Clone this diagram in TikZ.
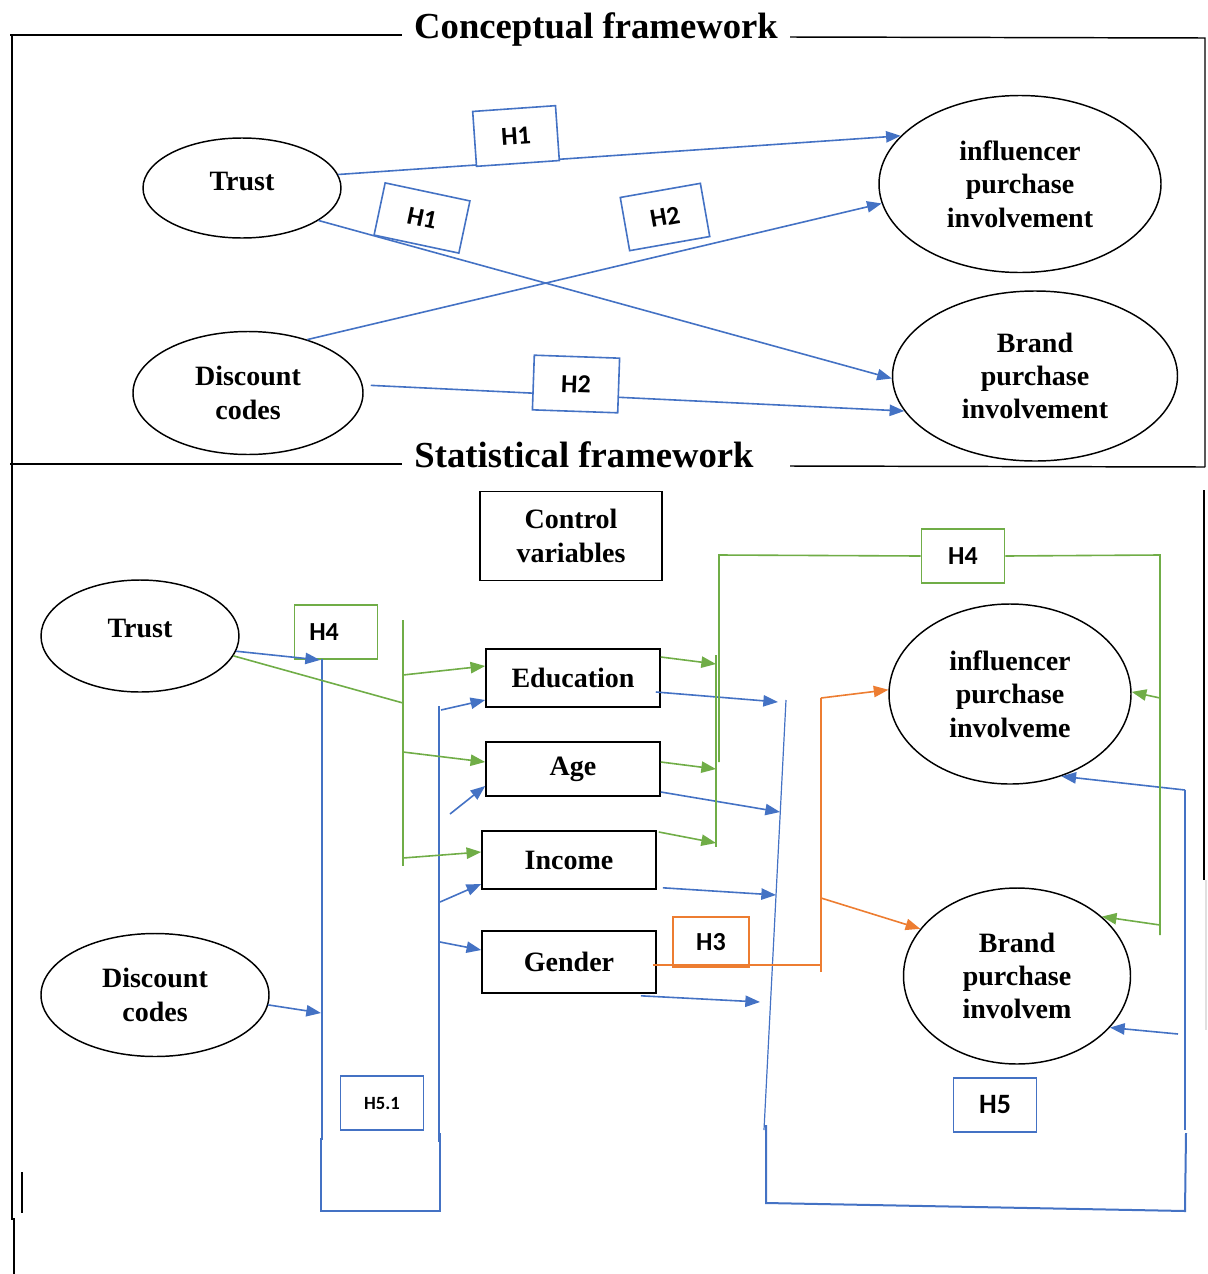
\documentclass[tikz,border=0pt]{standalone}
\usepackage{fontspec}
\setmainfont{Liberation Serif}
\newfontfamily\hfont{Carlito}
\usetikzlibrary{arrows.meta,shapes.geometric,calc}
\definecolor{cblue}{HTML}{4472C4}
\definecolor{cgreen}{HTML}{70AD47}
\definecolor{corange}{HTML}{ED7D31}
\begin{document}
\begin{tikzpicture}[x=0.75pt,y=-0.75pt,
  frame/.style={line width=1.1pt, black},
  ell/.style={ellipse, draw, line width=1.1pt, inner sep=0pt, align=center, font=\fontsize{21}{25}\selectfont\bfseries},
  box/.style={rectangle, draw, line width=1.2pt, inner sep=0pt, align=center, font=\fontsize{21}{25}\selectfont\bfseries},
  hbox/.style={rectangle, draw=cblue, fill=white, line width=1.2pt, inner sep=0pt, font=\hfont\fontsize{19.5}{22}\selectfont\bfseries},
  titlefont/.style={font=\fontsize{27.5}{30}\selectfont\bfseries, inner sep=0pt, anchor=base},
  bl/.style={cblue, line width=1.2pt},
  blthin/.style={cblue, line width=0.9pt},
  blthick/.style={cblue, line width=1.5pt},
  gl/.style={cgreen, line width=1.2pt},
  ol/.style={corange, line width=1.2pt},
  tip/.style={-{Triangle[length=11pt,width=8.5pt]}},
]
\useasboundingbox (0,0) rectangle (1207,1274);

% ---------- frame ----------
\draw[frame] (10,35) -- (402,35);
\draw[frame] (790,37) -- (1205,38) -- (1205,467);
\draw[frame] (12,35) -- (12,1220);
\draw[frame] (14,1218) -- (14,1274);
\draw[frame] (22,1172) -- (22,1213);
\draw[frame] (10,464) -- (402,464);
\draw[frame] (790,466) -- (1205,467);
\draw[frame] (1204,490) -- (1204,880);
\draw[black!12, line width=0.8pt] (1206,880) -- (1206,1030);

\node[titlefont] (ttl1) at (596,38) {Conceptual framework};
\node[titlefont] (ttl2) at (584,467) {Statistical framework};

% ---------- conceptual framework ----------
\node[ell, minimum width=148.5pt, minimum height=75pt] (tT) at (242,188) {\raisebox{10.5pt}{Trust}};
\node[ell, minimum width=172.5pt, minimum height=92.25pt] (dT) at (248,393) {Discount\\codes};
\node[ell, minimum width=211.5pt, minimum height=132.75pt] (infT) at (1020,184) {influencer\\purchase\\involvement};
\node[ell, minimum width=213.75pt, minimum height=127.5pt] (brT) at (1035,376) {Brand\\purchase\\involvement};

\draw[bl,tip] (tT.8) -- (infT.158);
\draw[bl,tip] (tT.-23) -- (brT.181);
\draw[bl,tip] (dT.42) -- (infT.188);
\draw[bl,tip,shorten <=6pt] (dT.4) -- (brT.195);

\node[hbox, minimum width=62.25pt, minimum height=41.25pt, rotate=4] (h1a) at (516,136) {H1};
\node[hbox, minimum width=65pt, minimum height=40pt, rotate=-12] (h1b) at (422,218) {H1};
\node[hbox, minimum width=61pt, minimum height=40.5pt, rotate=10] (h2a) at (665,217) {H2};
\node[hbox, minimum width=64pt, minimum height=41pt, rotate=-2] (h2b) at (576,384) {H2};

% ---------- statistical framework ----------
\node[box, minimum width=136.5pt, minimum height=66.75pt] (ctrl) at (571,536) {Control\\variables};
\node[ell, minimum width=148.5pt, minimum height=84pt] (tB) at (140,636) {\raisebox{11pt}{Trust}};
\node[ell, minimum width=171pt, minimum height=92.25pt] (dB) at (155,995) {Discount\\codes};
\node[box, minimum width=130.5pt, minimum height=43.5pt] (edu) at (573,678) {Education};
\node[box, minimum width=130.5pt, minimum height=40.5pt] (age) at (573,769) {Age};
\node[box, minimum width=130.5pt, minimum height=43.5pt] (inc) at (569,860) {Income};
\node[box, minimum width=130.5pt, minimum height=46.5pt] (gen) at (569,962) {Gender};
\node[ell, minimum width=181.5pt, minimum height=135pt] (infB) at (1010,694) {influencer\\purchase\\involveme};
\node[ell, minimum width=170.25pt, minimum height=132pt] (brB) at (1017,976) {Brand\\purchase\\involvem};

\node[hbox, draw=cgreen, minimum width=62.25pt, minimum height=40.5pt, text width=56pt, align=left] (h4a) at (336,632) {\hspace*{8pt}H4};
\node[hbox, draw=cgreen, minimum width=62.25pt, minimum height=40.5pt] (h4b) at (963,556) {H4};
\node[hbox, draw=corange, minimum width=57pt, minimum height=37.5pt] (h3) at (711,942) {H3};
\node[hbox, minimum width=62.25pt, minimum height=40.5pt, font=\hfont\fontsize{14}{16}\selectfont\bfseries] (h51) at (382,1103) {H5.1};
\node[hbox, minimum width=62.25pt, minimum height=40.5pt, font=\hfont\fontsize{21}{24}\selectfont\bfseries] (h5) at (995,1105) {H5};

% coordinates (blue)
\coordinate (b1t) at (322,659);
\coordinate (b1b) at (322,1140);
\coordinate (b1d) at (321,1013);
\coordinate (b1h) at (320,660);
\coordinate (k1) at (321,1138);
\coordinate (k2) at (321,1211);
\coordinate (k3) at (440,1211);
\coordinate (k4) at (440,1133);
\coordinate (b2t) at (439,706);
\coordinate (b2b) at (439,1142);
\coordinate (b2e) at (441,710);
\coordinate (b2a) at (450,814);
\coordinate (b2i) at (440,902);
\coordinate (b2g) at (440,942);
\coordinate (b3t) at (786,700);
\coordinate (b3b) at (764,1130);
\coordinate (b3e) at (778,702);
\coordinate (b3a) at (780,812);
\coordinate (b3i) at (776,895);
\coordinate (b3g) at (760,1002);
\coordinate (m1) at (766,1125);
\coordinate (m2) at (766,1203);
\coordinate (m3) at (1185,1211);
\coordinate (m4) at (1186,1133);
\coordinate (r1) at (1185,790);
\coordinate (r2) at (1185,1130);
\coordinate (r3) at (1178,1034);
% coordinates (green)
\coordinate (g1t) at (403,620);
\coordinate (g1b) at (403,866);
\coordinate (g1j) at (403,703);
\coordinate (g1e) at (403,675);
\coordinate (g1a) at (403,752);
\coordinate (g1i) at (403,858);
\coordinate (g2t) at (716,655);
\coordinate (g2b) at (716,847);
\coordinate (g2e) at (716,664);
\coordinate (g2a) at (716,769);
\coordinate (g2i) at (716,843);
\coordinate (g3b0) at (719,762);
\coordinate (g3tl) at (719,555);
\coordinate (g3tr) at (1160,555);
\coordinate (g3b) at (1160,935);
\coordinate (g3i) at (1160,698);
\coordinate (g3r) at (1160,925);
% coordinates (orange)
\coordinate (o1) at (821,965);
\coordinate (o2) at (821,972);
\coordinate (o3) at (821,698);
\coordinate (o4) at (821,898);

% blue connectors
\draw[bl,tip] (tB.-9) -- (b1h);
\draw[blthin] (b1t) -- (b1b);
\draw[bl,tip] (dB.-5) -- (b1d);
\draw[blthick] (k1) -- (k2) -- (k3) -- (k4);
\draw[blthin] (b2t) -- (b2b);
\draw[bl,tip] (b2e) -- ($(edu.west)+(0,22)$);
\draw[bl,tip] (b2a) -- ($(age.west)+(0,17)$);
\draw[bl,tip] (b2i) -- ($(inc.west)+(0,24)$);
\draw[bl,tip] (b2g) -- ($(gen.west)+(0,-12)$);
\draw[bl,tip] ($(edu.east)+(-5,14)$) -- (b3e);
\draw[bl,tip] ($(age.east)+(0,23)$) -- (b3a);
\draw[bl,tip] ($(inc.south east)+(6,-2)$) -- (b3i);
\draw[bl,tip] ($(gen.south east)+(-16,2)$) -- (b3g);
\draw[blthin] (b3t) -- (b3b);
\draw[blthick] (m1) -- (m2) -- (m3) -- (m4);
\draw[blthin] (r1) -- (r2);
\draw[bl,tip] (r1) -- (infB.-58);
\draw[bl,tip] (r3) -- (brB.-29);

% green connectors
\draw[gl] (tB.-12) -- (g1j);
\draw[gl] (g1t) -- (g1b);
\draw[gl,tip] (g1e) -- ($(edu.west)+(0,-12)$);
\draw[gl,tip] (g1a) -- ($(age.west)+(0,-7)$);
\draw[gl,tip] (g1i) -- ($(inc.west)+(0,-8)$);
\draw[gl,tip] ($(edu.east)+(0,-21)$) -- (g2e);
\draw[gl,tip] ($(age.east)+(0,-7)$) -- (g2a);
\draw[gl,tip] ($(inc.east)+(2,-28)$) -- (g2i);
\draw[gl] (g2t) -- (g2b);
\draw[gl] (g3b0) -- (g3tl) -- (h4b.west);
\draw[gl] (h4b.east) -- (g3tr) -- (g3b);
\draw[gl,tip] (g3i) -- (infB.1);
\draw[gl,tip] (g3r) -- (brB.35);

% orange connectors
\draw[ol] ($(gen.east)+(-4,3)$) -- (o1);
\draw[ol] (o2) -- (o3);
\draw[ol,tip] (o3) -- (infB.178);
\draw[ol,tip] (o4) -- (brB.154);
\end{tikzpicture}
\end{document}
